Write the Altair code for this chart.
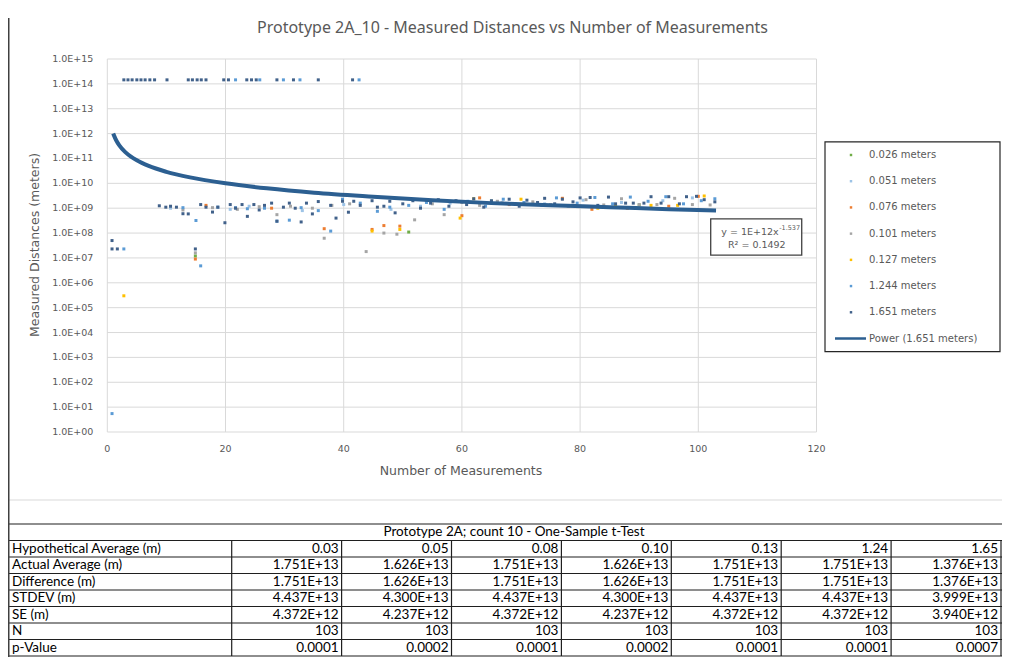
import altair as alt
import pandas as pd

W, H = 994, 649

TITLE = "Prototype 2A_10 - Measured Distances vs Number of Measurements"
X_TITLE = "Number of Measurements"
Y_TITLE = "Measured Distances (meters)"

x_ticks = [0, 20, 40, 60, 80, 100, 120]
y_ticks = [1e0, 1e1, 1e2, 1e3, 1e4, 1e5, 1e6, 1e7, 1e8, 1e9, 1e10, 1e11, 1e12, 1e13, 1e14, 1e15]
y_tick_labels = ["1.0E+00", "1.0E+01", "1.0E+02", "1.0E+03", "1.0E+04", "1.0E+05", "1.0E+06",
                 "1.0E+07", "1.0E+08", "1.0E+09", "1.0E+10", "1.0E+11", "1.0E+12", "1.0E+13",
                 "1.0E+14", "1.0E+15"]

series_labels = ["0.026 meters", "0.051 meters", "0.076 meters", "0.101 meters",
                 "0.127 meters", "1.244 meters", "1.651 meters"]
series_colors = ["#70AD47", "#9DC3E6", "#ED7D31", "#A5A5A5", "#FFC000", "#5B9BD5", "#41618A"]

# ---- series values ----
x_026 = [14.9, 51.0, 65.0, 90.0]
y_026 = [1.2e7, 1.1e8, 1.9e9, 1.35e9]

x_051 = [10.7, 20.8, 24.0, 33.0, 40.0, 48.0, 53.0, 58.0, 66.0, 74.0, 80.5, 87.0, 94.0, 99.0]
y_051 = [1.0e9, 9.0e8, 1.2e9, 8.0e8, 1.4e9, 9.0e8, 1.2e9, 1.6e9, 1.8e9, 1.5e9, 2.1e9, 1.7e9, 2.0e9, 2.6e9]

x_076 = [14.9, 16.7, 27.8, 36.7, 44.8, 46.8, 49.5, 60.0, 63.0, 68.0, 77.0, 82.0, 88.0, 95.0, 100.0]
y_076 = [9.0e6, 1.3e9, 1.0e9, 1.5e8, 1.4e8, 2.0e8, 1.9e8, 5.0e8, 2.6e9, 1.4e9, 2.5e9, 9.0e8, 1.0e9, 1.2e9, 3.0e9]

x_101 = [14.9, 12.8, 17.8, 22.0, 25.7, 28.7, 31.0, 34.7, 36.7, 38.0, 41.0, 43.8, 46.8, 49.0, 52.0,
         55.0, 57.0, 60.0, 63.0, 66.0, 69.0, 72.0, 75.0, 78.0, 81.0, 84.0, 87.0, 90.0, 93.0, 96.0,
         99.0, 102.0]
y_101 = [1.6e7, 8.5e8, 1.05e9, 9.0e8, 1.15e9, 5.5e8, 1.2e9, 1.0e9, 6.2e7, 1.3e9, 1.5e9, 1.8e7, 1.0e8,
         9.0e7, 3.4e8, 1.5e9, 5.5e8, 1.7e9, 1.3e9, 1.9e9, 1.5e9, 1.8e9, 1.4e9, 1.2e9, 2.2e9, 1.35e9,
         2.4e9, 1.4e9, 1.4e9, 2.5e9, 1.4e9, 1.35e9]

x_127 = [2.8, 44.8, 49.5, 59.7, 62.0, 70.0, 83.0, 86.0, 92.0, 96.5, 101.0]
y_127 = [3.0e5, 1.2e8, 1.4e8, 4.0e8, 2.4e9, 2.3e9, 1.0e9, 1.2e9, 1.3e9, 1.3e9, 3.1e9]

x_1244 = [0.8, 2.8, 15.8, 15.0, 12.8, 18.7, 21.7, 23.7, 26.6, 28.7, 30.8, 32.8, 35.7, 37.8, 39.8,
          42.8, 45.7, 47.8, 51.0, 54.0, 57.0, 61.0, 64.0, 67.0, 70.5, 73.5, 76.0, 79.5, 82.5, 85.5,
          88.5, 91.5, 94.5, 97.5, 100.5, 102.8,
          21.7, 25.8, 29.8, 32.6, 42.6]
y_1244 = [5.5, 2.3e7, 4.8e6, 3.2e8, 1.05e9, 1.1e9, 1.05e9, 9.5e8, 1.0e9, 3.0e8, 3.3e8, 1.05e9, 8.0e8,
          1.2e8, 2.3e9, 1.6e9, 7.5e8, 1.1e9, 1.3e9, 1.7e9, 9.0e8, 1.9e9, 1.2e9, 2.3e9, 1.7e9, 1.3e9,
          2.6e9, 1.6e9, 2.7e9, 1.5e9, 2.8e9, 1.9e9, 2.9e9, 1.5e9, 2.0e9, 2.4e9,
          1.45e14, 1.45e14, 1.45e14, 1.45e14, 1.45e14]

x_1651 = [2.8, 3.5, 4.2, 5.0, 5.7, 6.4, 7.2, 8.0, 10.1, 13.7, 14.4, 15.2, 15.9, 16.7, 19.7, 20.5,
          23.6, 24.4, 25.2, 28.7, 31.5, 35.7, 41.5,
          0.8, 0.8, 1.7, 14.9,
          8.8, 9.9, 10.7, 11.7, 12.8, 13.7, 15.8, 16.7, 17.8, 18.7, 19.9, 20.8, 21.7, 22.8, 23.7,
          24.8, 25.7, 26.6, 27.8, 28.7, 29.8, 30.8, 31.8, 32.8, 33.7, 34.7, 35.7, 37.8, 38.7, 39.8,
          40.8, 41.7, 42.8, 44.8, 45.7, 46.8, 47.8, 48.7, 50.0, 51.7, 53.0, 54.7, 56.0, 57.8, 59.0,
          60.8, 62.0, 63.7, 65.0, 66.8, 68.0, 69.7, 71.0, 72.8, 74.0, 75.7, 77.0, 78.8, 80.0, 81.7,
          83.0, 84.8, 86.0, 87.7, 89.0, 90.8, 92.0, 93.7, 95.0, 96.8, 98.0, 99.7, 101.0, 102.8]
y_1651 = [1.45e14, 1.45e14, 1.45e14, 1.45e14, 1.45e14, 1.45e14, 1.45e14, 1.45e14,
          1.45e14, 1.45e14, 1.45e14, 1.45e14, 1.45e14, 1.45e14, 1.45e14, 1.45e14, 1.45e14, 1.45e14,
          1.45e14, 1.45e14, 1.45e14, 1.45e14, 1.45e14,
          5.0e7, 2.3e7, 2.3e7, 2.3e7,
          1.25e9, 1.1e9, 1.2e9, 1.1e9, 6.0e8, 5.9e8, 1.4e9, 1.1e9, 7.0e8, 1.1e9, 2.6e8, 1.4e9, 1.0e9,
          1.4e9, 4.7e8, 1.4e9, 8.5e8, 1.3e9, 1.6e9, 3.0e8, 1.1e9, 1.6e9, 1.0e9, 2.8e8, 1.6e9, 5.9e8,
          1.85e9, 1.3e9, 4.0e8, 1.9e9, 6.9e8, 1.9e9, 1.3e9, 2.0e9, 1.1e9, 1.2e9, 1.9e9, 6.5e8, 1.5e9,
          2.0e9, 1.0e9, 1.6e9, 2.2e9, 1.2e9, 2.0e9, 1.4e9, 2.4e9, 1.1e9, 2.0e9, 1.6e9, 2.3e9, 1.2e9,
          2.1e9, 1.7e9, 2.5e9, 1.5e9, 2.3e9, 1.8e9, 2.6e9, 2.7e9, 1.3e9, 2.8e9, 1.5e9, 1.6e9, 1.6e9,
          1.6e9, 2.9e9, 1.6e9, 2.9e9, 1.5e9, 2.9e9, 3.0e9, 2.2e9, 1.8e9]

trend_label = "Power (1.651 meters)"
trend_x = [1, 1.5, 2, 3, 4, 5, 7, 10, 14, 20, 27, 35, 45, 55, 65, 75, 85, 95, 103]
trend_y = [1.0e12, 5.4e11, 3.45e11, 1.85e11, 1.19e11, 8.4e10, 5.0e10, 2.9e10, 1.73e10, 1.0e10,
           6.3e9, 4.2e9, 2.9e9, 2.1e9, 1.6e9, 1.3e9, 1.1e9, 9.1e8, 8.1e8]
eq_main = "y = 1E+12x"
eq_exp = "-1.537"
r2_text = "R² = 0.1492"

# ---- t-test table ----
table_title = "Prototype 2A; count 10 - One-Sample t-Test"
row_labels = ["Hypothetical Average (m)", "Actual Average (m)", "Difference (m)", "STDEV (m)",
              "SE (m)", "N", "p-Value"]
hyp_avg = ["0.03", "0.05", "0.08", "0.10", "0.13", "1.24", "1.65"]
act_avg = ["1.751E+13", "1.626E+13", "1.751E+13", "1.626E+13", "1.751E+13", "1.751E+13", "1.376E+13"]
diff = ["1.751E+13", "1.626E+13", "1.751E+13", "1.626E+13", "1.751E+13", "1.751E+13", "1.376E+13"]
stdev = ["4.437E+13", "4.300E+13", "4.437E+13", "4.300E+13", "4.437E+13", "4.437E+13", "3.999E+13"]
se = ["4.372E+12", "4.237E+12", "4.372E+12", "4.237E+12", "4.372E+12", "4.372E+12", "3.940E+12"]
n_vals = ["103", "103", "103", "103", "103", "103", "103"]
p_vals = ["0.0001", "0.0002", "0.0001", "0.0002", "0.0001", "0.0001", "0.0007"]
table_rows = [hyp_avg, act_avg, diff, stdev, se, n_vals, p_vals]

# ---------------- build frames ----------------
pts = []
for lab, xs_, ys_ in zip(series_labels,
                         [x_026, x_051, x_076, x_101, x_127, x_1244, x_1651],
                         [y_026, y_051, y_076, y_101, y_127, y_1244, y_1651]):
    for a, b in zip(xs_, ys_):
        pts.append({"x": a, "y": b, "series": lab})
points = pd.DataFrame(pts)
trend = pd.DataFrame({"x": trend_x, "y": trend_y})

GREY = "#595959"
GRID = "#D9D9D9"
FONT = "DejaVu Sans"
TFONT = "Lato"

xs = alt.Scale(domain=[0, 120], range=[99.3, 808.5], nice=False, zero=False)
ys = alt.Scale(type="log", domain=[1, 1e15], range=[424, 51], nice=False)


def X(f):
    return alt.X(f, type="quantitative", scale=xs, axis=None)


def Y(f):
    return alt.Y(f, type="quantitative", scale=ys, axis=None)


color = alt.Color("series:N", scale=alt.Scale(domain=series_labels, range=series_colors), legend=None)

hgrid = pd.DataFrame({"y": y_ticks, "x0": x_ticks[0], "x1": x_ticks[-1]})
vgrid = pd.DataFrame({"x": x_ticks, "y0": y_ticks[0], "y1": y_ticks[-1]})
ylab = pd.DataFrame({"y": y_ticks, "label": y_tick_labels, "x0": x_ticks[0]})
xlab = pd.DataFrame({"x": x_ticks, "label": [str(v) for v in x_ticks], "y0": y_ticks[0]})

layers = []
layers.append(alt.Chart(hgrid).mark_rule(color=GRID, strokeWidth=1).encode(x=X("x0"), x2="x1", y=Y("y")))
layers.append(alt.Chart(vgrid).mark_rule(color=GRID, strokeWidth=1).encode(x=X("x"), y=Y("y0"), y2="y1"))
layers.append(alt.Chart(ylab).mark_text(align="right", baseline="middle", dx=-14, font=FONT,
                                        fontSize=9.5, color=GREY).encode(x=X("x0"), y=Y("y"), text="label:N"))
layers.append(alt.Chart(xlab).mark_text(align="center", baseline="middle", dy=17, font=FONT,
                                        fontSize=9.5, color=GREY).encode(x=X("x"), y=Y("y0"), text="label:N"))
layers.append(alt.Chart(points).mark_square(size=9, opacity=1).encode(x=X("x"), y=Y("y"), color=color))
layers.append(alt.Chart(trend).mark_line(color="#2C5F91", strokeWidth=4, interpolate="monotone")
              .encode(x=X("x"), y=Y("y")))

# trendline equation box (placed in data coordinates)
box = pd.DataFrame({"x0": [102.1], "x1": [117.5], "y0": [3.7e8], "y1": [1.3e7]})
layers.append(alt.Chart(box).mark_rect(fill="white", stroke="#404040", strokeWidth=1.3)
              .encode(x=X("x0"), x2="x1", y=Y("y0"), y2="y1"))
eq = pd.DataFrame({"x": [113.6], "y": [1.1e8], "t": [eq_main], "e": [eq_exp]})
layers.append(alt.Chart(eq).mark_text(align="right", baseline="middle", font=FONT, fontSize=9.5, color=GREY)
              .encode(x=X("x"), y=Y("y"), text="t:N"))
layers.append(alt.Chart(eq).mark_text(align="left", baseline="middle", dy=-4, dx=0.5, font=FONT,
                                      fontSize=6.5, color=GREY).encode(x=X("x"), y=Y("y"), text="e:N"))
r2 = pd.DataFrame({"x": [109.9], "y": [3.2e7], "t": [r2_text]})
layers.append(alt.Chart(r2).mark_text(align="center", baseline="middle", font=FONT, fontSize=9.5, color=GREY)
              .encode(x=X("x"), y=Y("y"), text="t:N"))

# titles
layers.append(alt.Chart(pd.DataFrame({"t": [TITLE]})).mark_text(
    align="center", baseline="middle", font="Noto Sans", fontSize=16, color=GREY)
    .encode(x=alt.value(504.5), y=alt.value(20), text="t:N"))
layers.append(alt.Chart(pd.DataFrame({"t": [X_TITLE]})).mark_text(
    align="center", baseline="middle", font=FONT, fontSize=12.5, color=GREY)
    .encode(x=alt.value(453), y=alt.value(463), text="t:N"))
layers.append(alt.Chart(pd.DataFrame({"t": [Y_TITLE]})).mark_text(
    align="center", baseline="middle", angle=270, font=FONT, fontSize=12.5, color=GREY)
    .encode(x=alt.value(27), y=alt.value(237), text="t:N"))

# legend
ls = alt.Scale(domain=[0, 7], range=[147, 330.5])
leg_labels = series_labels + [trend_label]
leg = pd.DataFrame({"idx": list(range(len(leg_labels))), "label": leg_labels,
                    "series": series_labels + [""]})
legbox = pd.DataFrame({"b0": [-0.5], "b1": [len(leg_labels) - 0.5]})
layers.append(alt.Chart(legbox).mark_rect(fill="white", stroke="#262626", strokeWidth=1.2)
              .encode(x=alt.value(817), x2=alt.value(992),
                      y=alt.Y("b0:Q", scale=ls, axis=None), y2="b1"))
layers.append(alt.Chart(leg[leg.idx < len(series_labels)]).mark_square(size=6, opacity=1)
              .encode(x=alt.value(843), y=alt.Y("idx:Q", scale=ls, axis=None), color=color))
layers.append(alt.Chart(leg[leg.idx == len(series_labels)]).mark_rule(color="#2C5F91", strokeWidth=2.5)
              .encode(x=alt.value(827), x2=alt.value(858), y=alt.Y("idx:Q", scale=ls, axis=None)))
layers.append(alt.Chart(leg).mark_text(align="left", baseline="middle", font=FONT, fontSize=10, color=GREY)
              .encode(x=alt.value(861), y=alt.Y("idx:Q", scale=ls, axis=None), text="label:N"))

# chart frame line
layers.append(alt.Chart(pd.DataFrame({"a": [0]})).mark_rule(color="#D9D9D9", strokeWidth=1)
              .encode(x=alt.value(0), x2=alt.value(W), y=alt.value(492)))

# table (rows/columns compressed slightly so every cell stays on the page)
tc = alt.Scale(domain=[0, 7], range=[223.7, 993])
tr = alt.Scale(domain=[0, 7], range=[532.5, 648])
hl = pd.DataFrame({"r": list(range(-1, len(row_labels) + 1))})
layers.append(alt.Chart(hl).mark_rule(color="#1F1F1F", strokeWidth=1.2)
              .encode(x=alt.value(0), x2=alt.value(W), y=alt.Y("r:Q", scale=tr, axis=None)))
vl = pd.DataFrame({"c": list(range(0, len(hyp_avg) + 1)), "r0": 0, "r1": len(row_labels)})
layers.append(alt.Chart(vl).mark_rule(color="#1F1F1F", strokeWidth=1.2)
              .encode(x=alt.X("c:Q", scale=tc, axis=None), y=alt.Y("r0:Q", scale=tr, axis=None), y2="r1"))
tl = pd.DataFrame({"rm": [i + 0.5 for i in range(len(row_labels))], "label": row_labels})
layers.append(alt.Chart(tl).mark_text(align="left", baseline="middle", font=TFONT, fontSize=13.5, color="black")
              .encode(x=alt.value(4), y=alt.Y("rm:Q", scale=tr, axis=None), text="label:N"))
cells = []
for ri, row in enumerate(table_rows):
    for ci, v in enumerate(row):
        cells.append({"c": ci + 1, "rm": ri + 0.5, "t": v})
cells = pd.DataFrame(cells)
layers.append(alt.Chart(cells).mark_text(align="right", baseline="middle", dx=-3, font=TFONT,
                                         fontSize=13.5, color="black")
              .encode(x=alt.X("c:Q", scale=tc, axis=None), y=alt.Y("rm:Q", scale=tr, axis=None), text="t:N"))
tt = pd.DataFrame({"rm": [-0.5], "t": [table_title]})
layers.append(alt.Chart(tt).mark_text(align="center", baseline="middle", font=TFONT, fontSize=13.5, color="black")
              .encode(x=alt.value(506), y=alt.Y("rm:Q", scale=tr, axis=None), text="t:N"))

# left border of the whole block
layers.append(alt.Chart(pd.DataFrame({"a": [0]})).mark_rule(color="#404040", strokeWidth=1.5)
              .encode(x=alt.value(0.75), y=alt.value(10), y2=alt.value(H)))

chart = alt.layer(*layers).resolve_scale(x="independent", y="independent", color="independent").properties(
    width=W, height=H, padding=0, autosize=alt.AutoSizeParams(type="none")
).configure_view(stroke=None)

chart.save("out.html", embed_options={"renderer": "svg", "actions": False})
